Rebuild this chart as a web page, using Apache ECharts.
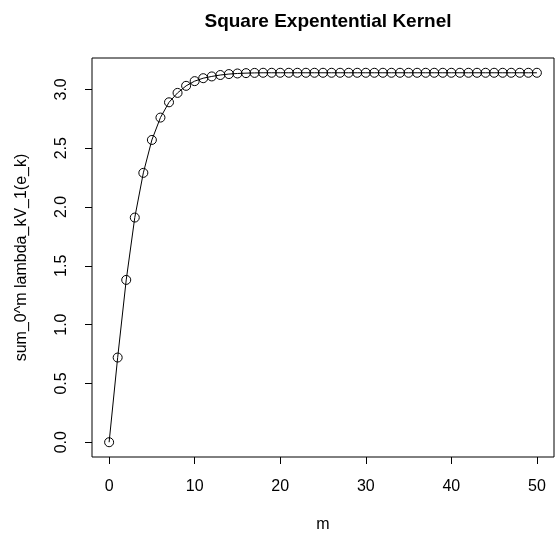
<!DOCTYPE html>
<html>
<head>
<meta charset="utf-8">
<title>Square Expentential Kernel</title>
<script src="https://cdn.jsdelivr.net/npm/echarts@6/dist/echarts.min.js"></script>
<style>
  html, body { margin: 0; padding: 0; background: #fff; }
  #chart { width: 556px; height: 544px; }
</style>
</head>
<body>
<div id="chart"></div>
<script>
// Cumulative eigenvalue sums for m = 0..50
const mValues = [
  0, 1, 2, 3, 4, 5, 6, 7, 8, 9,
  10, 11, 12, 13, 14, 15, 16, 17, 18, 19,
  20, 21, 22, 23, 24, 25, 26, 27, 28, 29,
  30, 31, 32, 33, 34, 35, 36, 37, 38, 39,
  40, 41, 42, 43, 44, 45, 46, 47, 48, 49, 50
];
const sumValues = [
  0, 0.72, 1.38, 1.91, 2.29, 2.57, 2.76, 2.89, 2.97, 3.03,
  3.07, 3.095, 3.11, 3.122, 3.13, 3.135, 3.138, 3.14, 3.141, 3.141,
  3.141, 3.141, 3.141, 3.141, 3.141, 3.141, 3.141, 3.141, 3.141, 3.141,
  3.141, 3.141, 3.141, 3.141, 3.141, 3.141, 3.141, 3.141, 3.141, 3.141,
  3.141, 3.141, 3.141, 3.141, 3.141, 3.141, 3.141, 3.141, 3.141, 3.141, 3.141
];
const xTicks = [0, 10, 20, 30, 40, 50];
const yTicks = [0, 0.5, 1.0, 1.5, 2.0, 2.5, 3.0];

const FONT = 'Liberation Sans, Arial, Helvetica, sans-serif';

// axis ranges padded by 4% on each side
const xMin = -2, xMax = 52;
const yLo = 0, yHi = Math.max(...sumValues);
const yPad = (yHi - yLo) * 0.04;

const chart = echarts.init(document.getElementById('chart'), null, { renderer: 'canvas' });

chart.setOption({
  animation: false,
  backgroundColor: '#ffffff',
  title: {
    text: 'Square Expentential Kernel',
    left: 323,
    top: 7,
    textAlign: 'center',
    textStyle: { fontFamily: FONT, fontSize: 19, fontWeight: 'bold', color: '#000' }
  },
  grid: {
    left: 92, top: 58, right: 2, bottom: 87,
    show: true, borderColor: '#000', borderWidth: 1,
    containLabel: false, outerBoundsMode: 'none'
  },
  xAxis: {
    type: 'value',
    min: xMin, max: xMax,
    name: 'm',
    nameLocation: 'middle',
    nameGap: 60,
    nameTextStyle: { fontFamily: FONT, fontSize: 16, color: '#000' },
    axisLine: { show: false, onZero: false },
    splitLine: { show: false },
    axisTick: { show: true, length: 7, customValues: xTicks, lineStyle: { color: '#000', width: 1 } },
    axisLabel: {
      customValues: xTicks, margin: 22,
      fontFamily: FONT, fontSize: 16, color: '#000'
    }
  },
  yAxis: {
    type: 'value',
    min: yLo - yPad, max: yHi + yPad,
    name: 'sum_0^m lambda_kV_1(e_k)',
    nameLocation: 'middle',
    nameGap: 62,
    nameTextStyle: { fontFamily: FONT, fontSize: 16, color: '#000' },
    axisLine: { show: false, onZero: false },
    splitLine: { show: false },
    axisTick: { show: true, length: 7, customValues: yTicks, lineStyle: { color: '#000', width: 1 } },
    axisLabel: {
      customValues: yTicks, margin: 22, rotate: 90,
      formatter: v => v.toFixed(1),
      fontFamily: FONT, fontSize: 16, color: '#000'
    }
  },
  series: [{
    type: 'line',
    data: mValues.map((m, i) => [m, sumValues[i]]),
    symbol: 'circle',
    symbolSize: 9,
    showAllSymbol: true,
    lineStyle: { color: '#000', width: 1 },
    itemStyle: { color: 'rgba(0,0,0,0)', borderColor: '#000', borderWidth: 1 },
    emphasis: { disabled: true }
  }]
});
</script>
</body>
</html>
